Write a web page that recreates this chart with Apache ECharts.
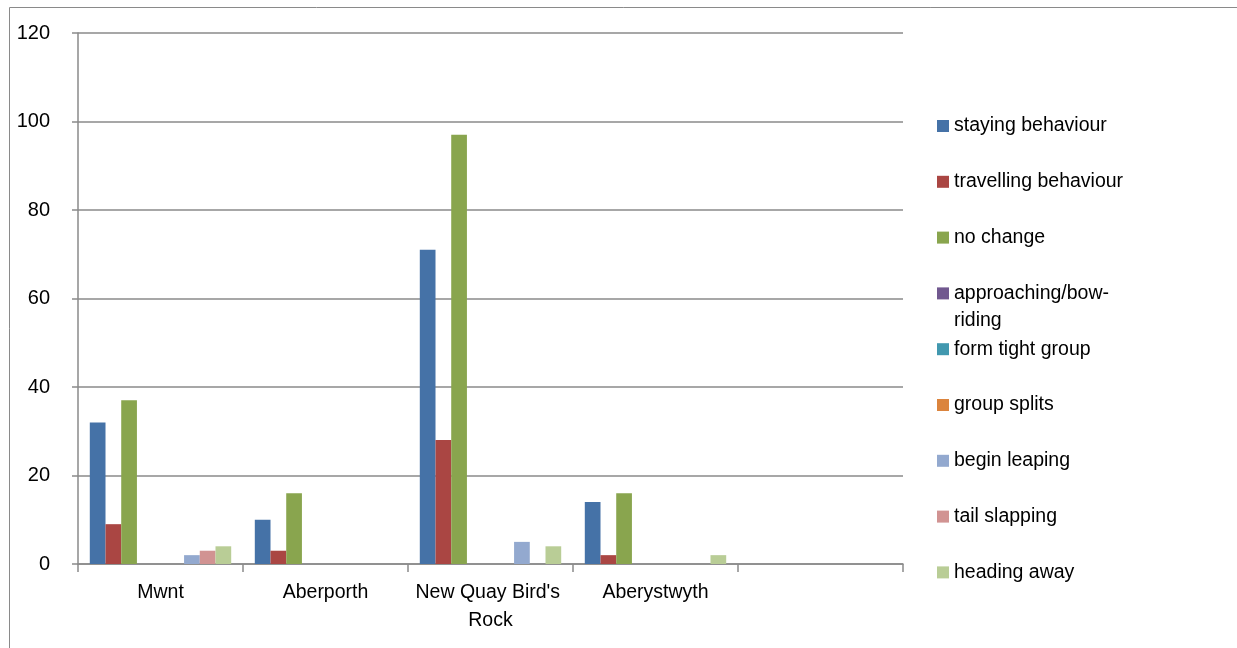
<!DOCTYPE html>
<html>
<head>
<meta charset="utf-8">
<title>Behavioural responses by site</title>
<script src="https://cdn.jsdelivr.net/npm/echarts@6/dist/echarts.min.js"></script>
<style>
  html, body { margin: 0; padding: 0; background: #fff; }
  #chart { width: 1237px; height: 648px; }
</style>
</head>
<body>
<div id="chart"></div>
<script>
// Sites (the last slot on the axis is left empty)
const sites = ['Mwnt', 'Aberporth', "New Quay Bird's Rock", 'Aberystwyth', ''];

// Counts of each behavioural response per site
const stayingBehaviour    = [32, 10, 71, 14, 0];
const travellingBehaviour = [9, 3, 28, 2, 0];
const noChange            = [37, 16, 97, 16, 0];
const approachingBowRiding = [0, 0, 0, 0, 0];
const formTightGroup      = [0, 0, 0, 0, 0];
const groupSplits         = [0, 0, 0, 0, 0];
const beginLeaping        = [2, 0, 5, 0, 0];
const tailSlapping        = [3, 0, 0, 0, 0];
const headingAway         = [4, 0, 4, 2, 0];

const yTicks = [0, 20, 40, 60, 80, 100, 120];

const seriesDefs = [
  { name: 'staying behaviour',      data: stayingBehaviour,     color: '#4572A7' },
  { name: 'travelling behaviour',   data: travellingBehaviour,  color: '#AA4643' },
  { name: 'no change',              data: noChange,             color: '#89A54E' },
  { name: 'approaching/bow-riding', data: approachingBowRiding, color: '#71588F' },
  { name: 'form tight group',       data: formTightGroup,       color: '#4198AF' },
  { name: 'group splits',           data: groupSplits,          color: '#DB843D' },
  { name: 'begin leaping',          data: beginLeaping,         color: '#93A9CF' },
  { name: 'tail slapping',          data: tailSlapping,         color: '#D19392' },
  { name: 'heading away',           data: headingAway,          color: '#B9CD96' }
];

const FONT = '"Liberation Sans", Arial, sans-serif';
const axisGrey = '#8a8a8a';
const legendFontSize = 19.5;

// One legend block per entry so every row sits on a fixed pitch
const legendRowTop = 112.5;
const legendPitch = 55.8;
const legendLineHeight = 27;
const legends = seriesDefs.map((s, i) => ({
  data: [s.name],
  left: 937,
  top: legendRowTop + i * legendPitch,
  orient: 'vertical',
  itemWidth: 12,
  itemHeight: 12,
  padding: 0,
  selectedMode: false,
  icon: 'rect',
  // the long name wraps; its second line is added below the row
  formatter: s.name === 'approaching/bow-riding' ? 'approaching/bow-' : '{name}',
  textStyle: {
    fontFamily: FONT,
    fontSize: legendFontSize,
    color: '#000',
    lineHeight: legendLineHeight
  }
}));
const wrapIndex = seriesDefs.findIndex(s => s.name === 'approaching/bow-riding');

const chart = echarts.init(document.getElementById('chart'), null, { renderer: 'canvas' });

chart.setOption({
  animation: false,
  backgroundColor: '#fff',
  graphic: [
    {
      type: 'rect',
      shape: { x: 9.5, y: 7.5, width: 1400, height: 800 },
      style: { fill: 'none', stroke: '#8a8a8a', lineWidth: 1 },
      silent: true,
      z: -10
    },
    {
      type: 'text',
      left: 954,
      top: legendRowTop + wrapIndex * legendPitch + legendLineHeight,
      style: {
        text: 'riding',
        font: legendFontSize + 'px ' + FONT,
        fill: '#000',
        lineHeight: legendLineHeight,
        height: legendLineHeight,
        verticalAlign: 'top'
      },
      silent: true
    }
  ],
  grid: { left: 78, right: 334, top: 33, bottom: 84 },
  legend: legends,
  xAxis: {
    type: 'category',
    data: sites,
    boundaryGap: true,
    axisLine: { show: true, lineStyle: { color: axisGrey, width: 1.5 } },
    axisTick: { show: true, alignWithLabel: false, length: 8, lineStyle: { color: axisGrey, width: 1.5 } },
    axisLabel: {
      fontFamily: FONT,
      fontSize: 19.5,
      color: '#000',
      margin: 15,
      lineHeight: 28,
      width: 155,
      overflow: 'break',
      interval: 0
    },
    splitLine: { show: false }
  },
  yAxis: {
    type: 'value',
    min: yTicks[0],
    max: yTicks[yTicks.length - 1],
    interval: 20,
    axisLine: { show: true, lineStyle: { color: axisGrey, width: 1.5 } },
    axisTick: { show: true, length: 6, lineStyle: { color: axisGrey, width: 1.5 } },
    axisLabel: {
      fontFamily: FONT,
      fontSize: 20,
      color: '#000',
      margin: 28
    },
    splitLine: { show: true, lineStyle: { color: axisGrey, width: 1.5 } }
  },
  series: seriesDefs.map(s => ({
    name: s.name,
    type: 'bar',
    data: s.data,
    barGap: '0%',
    barCategoryGap: '14.3%',
    itemStyle: { color: s.color },
    emphasis: { disabled: true }
  }))
});
</script>
</body>
</html>
